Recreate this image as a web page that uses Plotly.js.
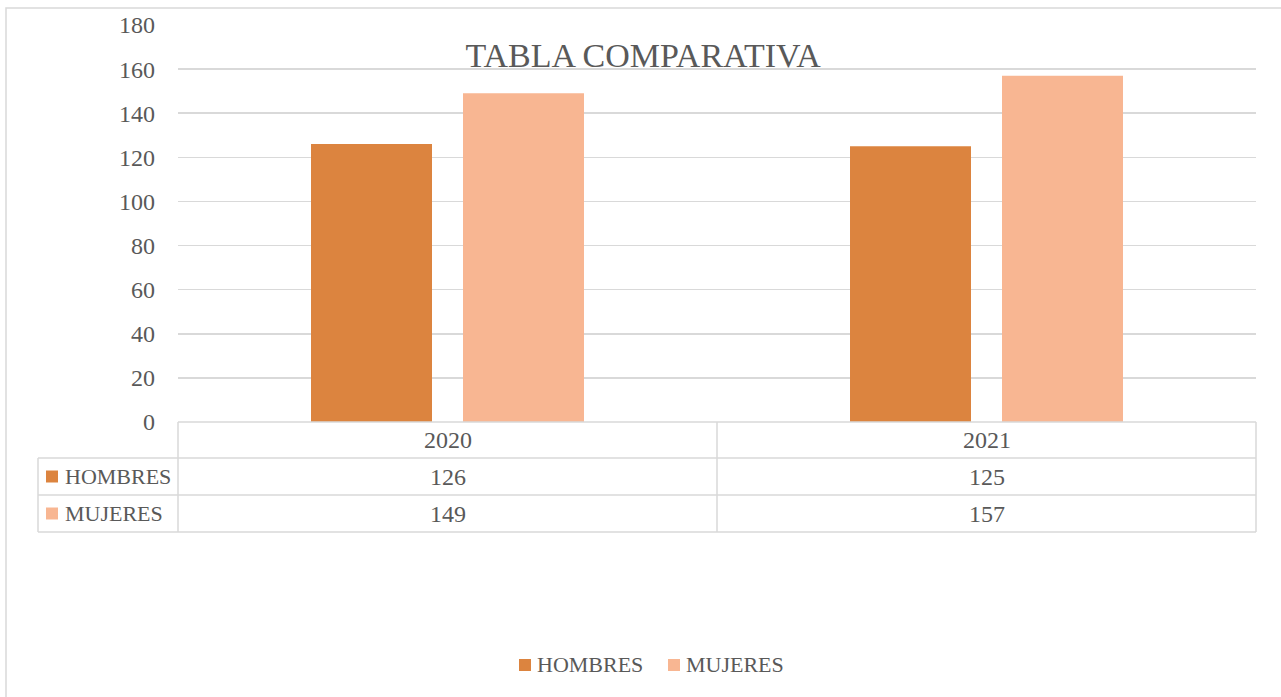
<!DOCTYPE html>
<html>
<head>
<meta charset="utf-8">
<script src="https://cdn.plot.ly/plotly-3.0.1.min.js"></script>
<style>html,body{margin:0;padding:0;background:#fff;}#chart{width:1281px;height:697px;}</style>
</head>
<body>
<div id="chart"></div>
<script>
// ---- data ----
const categories = ["2020", "2021"];
const seriesNames = ["HOMBRES", "MUJERES"];
const hombres = [126, 125];
const mujeres = [149, 157];
const seriesColors = ["#DC843F", "#F8B692"];
const yTicks = [0, 20, 40, 60, 80, 100, 120, 140, 160, 180];

// ---- layout geometry (pixels) ----
const W = 1281, H = 697;
const L = 178, R = 1256, T = 25, B = 422;
const px = x => (x - L) / (R - L);
const py = y => (B - y) / (B - T);
const FONT = "Liberation Serif, DejaVu Serif, serif";
const TXT = "#595959";
const LINE = "#D9D9D9";

const seriesValues = [hombres, mujeres];
const traces = seriesNames.map((name, i) => ({
  type: "bar",
  name: name,
  x: categories,
  y: seriesValues[i],
  marker: {color: seriesColors[i]},
  showlegend: false,
  hoverinfo: "x+y+name"
}));

const shapes = [];
function hline(y, x0, x1) {
  shapes.push({type: "line", xref: "paper", yref: "paper", x0: px(x0), x1: px(x1), y0: py(y), y1: py(y), line: {color: LINE, width: 1.5}});
}
function vline(x, y0, y1) {
  shapes.push({type: "line", xref: "paper", yref: "paper", x0: px(x), x1: px(x), y0: py(y0), y1: py(y1), line: {color: LINE, width: 1.5}});
}
// outer chart border
shapes.push({type: "rect", xref: "paper", yref: "paper", x0: px(6), x1: px(1290), y0: py(8), y1: py(710), line: {color: LINE, width: 1.5}, fillcolor: "rgba(0,0,0,0)", layer: "below"});
// data table grid
const rowY = [422, 458, 495, 532];
hline(422, L, R);
hline(458, 38, R);
hline(495, 38, R);
hline(532, 38, R);
vline(38, 458, 532);
vline(L, 422, 532);
vline((L + R) / 2, 422, 532);
vline(R, 422, 532);

const annotations = [];
const rowCenters = [(rowY[0] + rowY[1]) / 2, (rowY[1] + rowY[2]) / 2, (rowY[2] + rowY[3]) / 2];
// header row: categories
categories.forEach(c => {
  annotations.push({xref: "x", yref: "paper", x: c, y: py(rowCenters[0]), text: c, showarrow: false, font: {family: FONT, size: 24, color: TXT}, yanchor: "middle"});
});
// series rows
seriesNames.forEach((name, i) => {
  const yc = rowCenters[i + 1];
  shapes.push({type: "rect", xref: "paper", yref: "paper", x0: px(46), x1: px(58), y0: py(yc - 6), y1: py(yc + 6), fillcolor: seriesColors[i], line: {width: 0}});
  annotations.push({xref: "paper", yref: "paper", x: px(63), y: py(yc), text: name, showarrow: false, xanchor: "left", yanchor: "middle", font: {family: FONT, size: 22, color: TXT}});
  categories.forEach((c, j) => {
    annotations.push({xref: "x", yref: "paper", x: c, y: py(yc), text: String(seriesValues[i][j]), showarrow: false, yanchor: "middle", font: {family: FONT, size: 24, color: TXT}});
  });
});

// bottom legend (drawn as keys + labels)
const legendY = 665;
const legendKeyX = [519, 668];
seriesNames.forEach((name, i) => {
  const kx = legendKeyX[i];
  shapes.push({type: "rect", xref: "paper", yref: "paper", x0: px(kx), x1: px(kx + 12), y0: py(legendY - 6), y1: py(legendY + 6), fillcolor: seriesColors[i], line: {width: 0}});
  annotations.push({xref: "paper", yref: "paper", x: px(kx + 16), y: py(legendY), text: name, showarrow: false, xanchor: "left", yanchor: "middle", font: {family: FONT, size: 22, color: TXT}});
});

const layout = {
  width: W, height: H,
  margin: {l: L, r: W - R, t: T, b: H - B, pad: 0},
  paper_bgcolor: "#fff",
  plot_bgcolor: "#fff",
  title: {text: "TABLA COMPARATIVA", font: {family: FONT, size: 34, color: TXT}, xref: "container", x: 0.502, xanchor: "center", yref: "container", y: 1 - 55 / H, yanchor: "middle"},
  barmode: "group",
  bargap: 0.436,
  bargroupgap: 0.204,
  xaxis: {showticklabels: false, ticks: "", showgrid: false, zeroline: false, showline: false, fixedrange: true},
  yaxis: {range: [0, 180], tickvals: yTicks, ticktext: yTicks.map(String), showgrid: true, gridcolor: LINE, gridwidth: 1.5, zeroline: false, showline: false, ticks: "", ticklabelstandoff: 22, tickfont: {family: FONT, size: 24, color: TXT}, fixedrange: true},
  showlegend: false,
  shapes: shapes,
  annotations: annotations
};

Plotly.newPlot("chart", traces, layout, {displayModeBar: false, staticPlot: true});
</script>
</body>
</html>
